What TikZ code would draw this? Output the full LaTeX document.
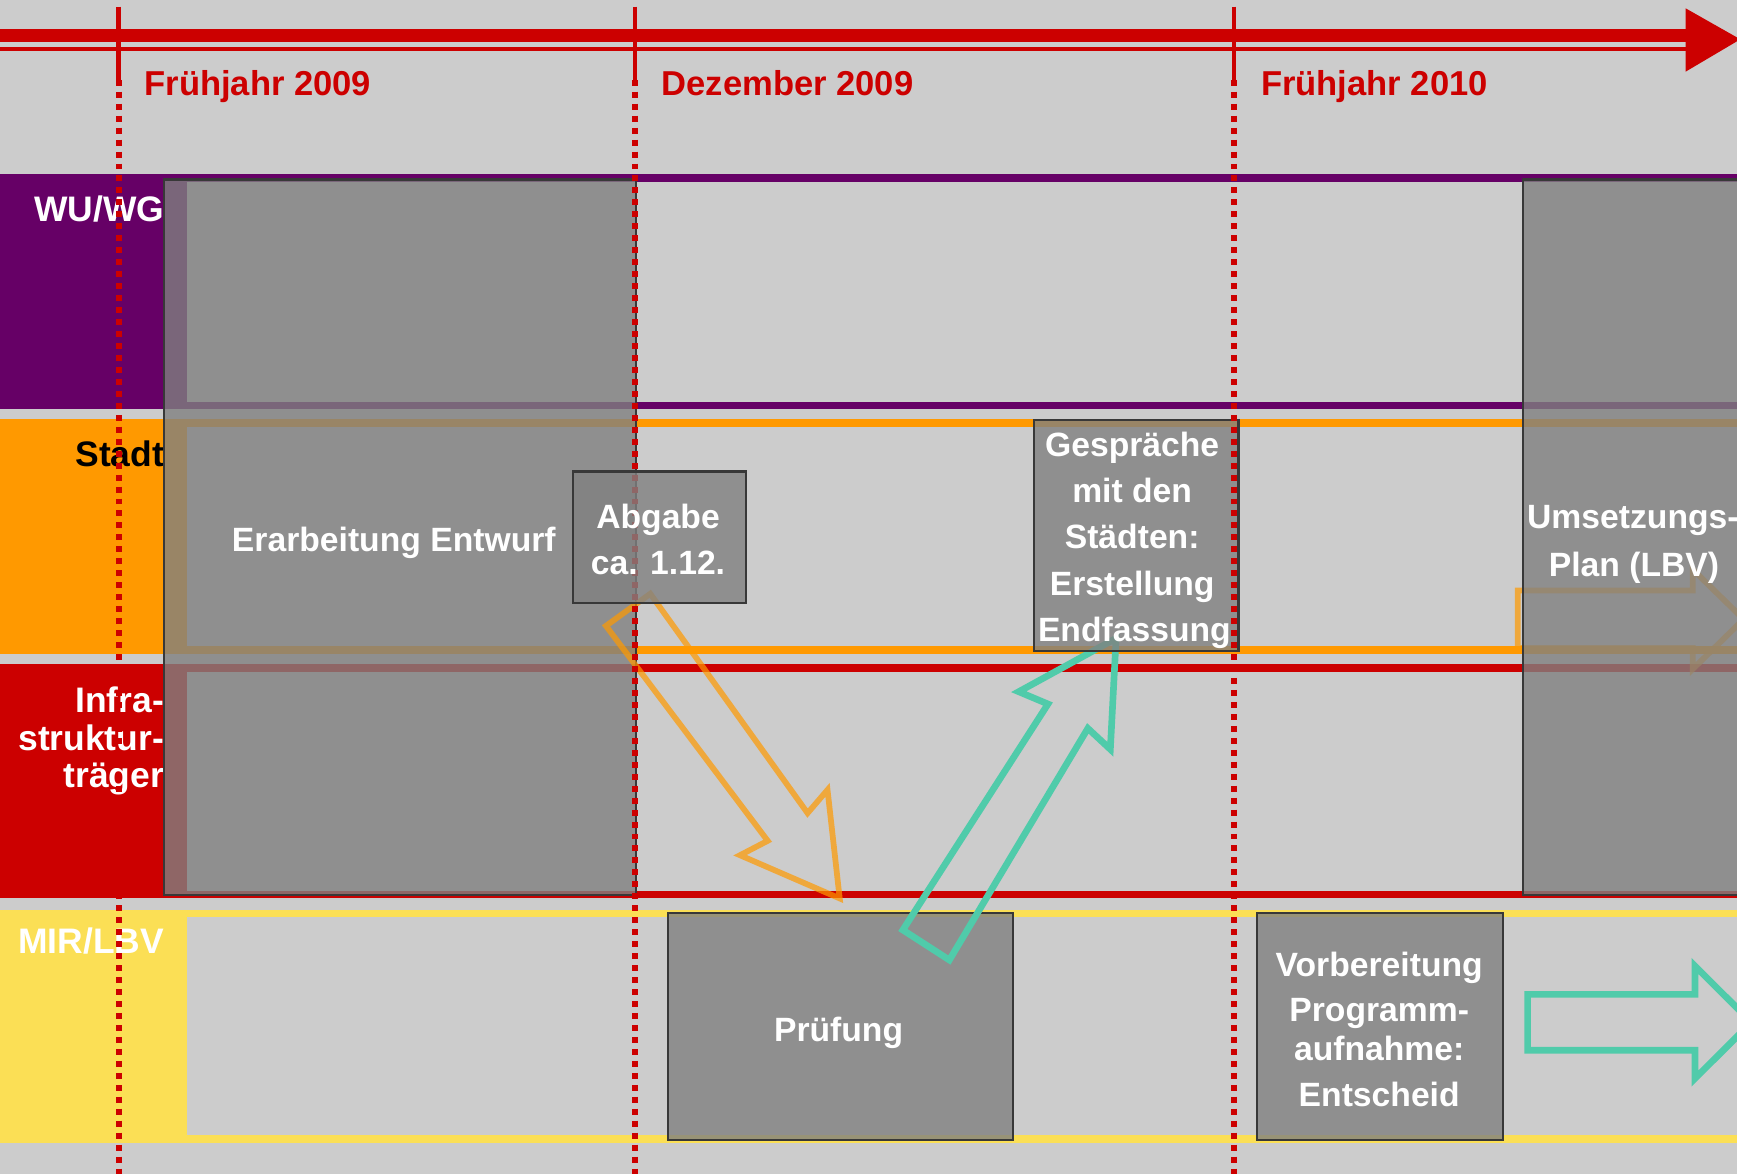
\documentclass[tikz,border=0pt]{standalone}
\usepackage{fontspec}
\setmainfont{Liberation Sans}
\definecolor{bg}{HTML}{CCCCCC}
\definecolor{lpurple}{HTML}{660066}
\definecolor{lorange}{HTML}{FF9900}
\definecolor{lred}{HTML}{CC0000}
\definecolor{lyellow}{HTML}{FBDF55}
\definecolor{lteal}{HTML}{50CBAA}
\definecolor{boxgray}{HTML}{808080}
\definecolor{boxline}{HTML}{383838}
\begin{document}
\begin{tikzpicture}[x=0.5pt,y=-0.5pt,
  graybox/.style={fill=boxgray, fill opacity=0.8, draw=boxline, line width=1pt, inner sep=0pt, anchor=north west},
  boxtext/.style={text=white, font=\fontsize{15.2}{18}\selectfont\bfseries, inner sep=0pt, anchor=base},
  lanelabel/.style={font=\fontsize{16}{18}\selectfont\bfseries, inner sep=0pt, anchor=base east},
  timelabel/.style={text=lred, font=\fontsize{15.6}{18}\selectfont\bfseries, inner sep=0pt, anchor=base west},
  dotline/.style={draw=lred, line width=2.7pt, dash pattern=on 2.7pt off 2.7pt},
  ticksolid/.style={draw=lred, line width=2pt},
  blockorange/.style={draw=lorange, draw opacity=0.7, line width=2.6pt, line join=miter},
  blockteal/.style={draw=lteal, line width=3pt, line join=miter},
]
\useasboundingbox (0,0) rectangle (1568,1060);
\clip (0,0) rectangle (1568,1060);
\fill[bg] (0,0) rectangle (1568,1060);

% lanes
\fill[lpurple] (0,157.5) rectangle (1600,369.5);
\fill[bg] (168.5,164.6) rectangle (1600,362.6);
\fill[lorange] (0,378.5) rectangle (1600,590);
\fill[bg] (168.5,385.2) rectangle (1600,583);
\fill[lred] (0,599.4) rectangle (1600,811);
\fill[bg] (168.5,606.4) rectangle (1600,804);
\fill[lyellow] (0,821) rectangle (1600,1031.6);
\fill[bg] (168.5,827.5) rectangle (1600,1025);

% lane labels
\node[lanelabel, text=white] (lwu) at (148.5,199.5) {WU/WG};
\node[lanelabel, text=black] (lst) at (148.5,421) {Stadt};
\node[lanelabel, text=white] (lin1) at (148.5,643.5) {Infra-};
\node[lanelabel, text=white] (lin2) at (148.5,677.5) {struktur-};
\node[lanelabel, text=white] (lin3) at (148.5,711) {träger};
\node[lanelabel, text=white] (lmir) at (148.5,861) {MIR/LBV};

% orange arrow under the right box
\draw[blockorange] (1370,533) -- (1528,533) -- (1528,514) -- (1574,559) -- (1528,604) -- (1528,585) -- (1370,585) -- cycle;

% large boxes
\node[graybox, minimum width=213pt, minimum height=323pt] (entwurf) at (147,161) {};
\node[graybox, minimum width=113pt, minimum height=323pt] (umsetz) at (1374,161) {};

% MIR boxes
\node[graybox, minimum width=155.75pt, minimum height=102.5pt] (pruef) at (602,823) {};
\node[graybox, minimum width=111pt, minimum height=102.5pt] (vorb) at (1134,823) {};

% block arrows
\draw[blockorange] (587,536) -- (729,734) -- (747,713) -- (758,811) -- (668,772) -- (693,759) -- (547,565) -- cycle;
\draw[blockteal] (857,866.6) -- (982,657.5) -- (1002.3,676.4) -- (1007.5,576.2) -- (919.6,624.4) -- (946,635.5) -- (815,839.5) -- cycle;
\draw[blockteal] (1379,897.6) -- (1530,897.6) -- (1530,872) -- (1581,922.8) -- (1530,973.6) -- (1530,948) -- (1379,948) -- cycle;

% Gespraeche box
\node[graybox, minimum width=92.2pt, minimum height=104.5pt] (gespr) at (932.6,378) {};

% timeline
\fill[lred] (0,26.4) rectangle (1522,38.2);
\fill[lred] (0,42) rectangle (1522,45.7);
\fill[lred] (1521.6,7.5) -- (1571,35.5) -- (1521.6,64.7) -- cycle;
\foreach \xx/\nm in {107/a,573/b,1114/c}{
  \coordinate (top\nm) at (\xx,6);
  \coordinate (mid\nm) at (\xx,72);
  \coordinate (bot\nm) at (\xx,1060);
  \draw[ticksolid] (top\nm) -- (mid\nm);
  \draw[dotline] (mid\nm) -- (bot\nm);
}
\node[timelabel] (t1) at (130,86) {Frühjahr 2009};
\node[timelabel] (t2) at (597,86) {Dezember 2009};
\node[timelabel] (t3) at (1138,86) {Frühjahr 2010};

% Abgabe box
\node[graybox, minimum width=78.25pt, minimum height=59.45pt] (abgabe) at (516,424.6) {};

% texts
\node[boxtext] (x1) at (355.5,498) {Erarbeitung Entwurf};
\node[boxtext] (x2) at (594,477.5) {Abgabe};
\node[boxtext] (x3) at (594,519) {ca. 1.12.};
\node[boxtext] (g1) at (1022,412.5) {Gespräche};
\node[boxtext] (g2) at (1022,454) {mit den};
\node[boxtext] (g3) at (1022,495.5) {Städten:};
\node[boxtext] (g4) at (1022,537.5) {Erstellung};
\node[boxtext] (g5) at (1024,579.5) {Endfassung};
\node[boxtext] (p1) at (757,940.5) {Prüfung};
\node[boxtext] (v1) at (1245,881.5) {Vorbereitung};
\node[boxtext] (v2) at (1245,922.5) {Programm-};
\node[boxtext] (v3) at (1245,957.5) {aufnahme:};
\node[boxtext] (v4) at (1245,999) {Entscheid};
\node[boxtext] (u1) at (1474,477.5) {Umsetzungs-};
\node[boxtext] (u2) at (1475,520) {Plan (LBV)};
\end{tikzpicture}
\end{document}
